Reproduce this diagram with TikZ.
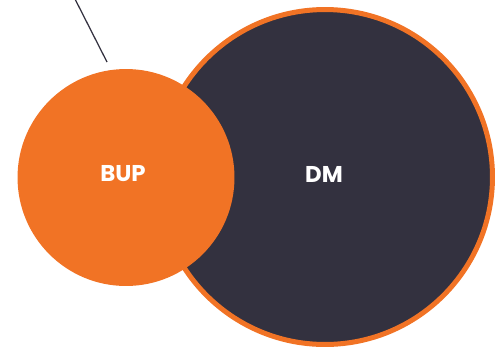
\documentclass[tikz,border=0pt]{standalone}
\usepackage{fontspec}
\setmainfont{Poppins}
\definecolor{bupOrange}{HTML}{F17325}
\definecolor{dmDark}{HTML}{33313F}
\begin{document}
\begin{tikzpicture}[x=0.02cm, y=-0.02cm,
    every node/.style={inner sep=0pt},
    disc/.style={circle, minimum size=#1},
    caption/.style={text=white, font=\bfseries\fontsize{13}{15}\selectfont}]
            \useasboundingbox (0,0) rectangle (502,349);
            \node[disc=6.7cm, fill=dmDark, draw=bupOrange, line width=0.1cm] (dm) at (325,177) {};
            \node[disc=4.34cm, fill=bupOrange] (bup) at (126,177.5) {};
            \node[caption] (dmtext) at (324,174) {DM};
            \node[caption] (buptext) at (123,173.5) {BUP};
            \coordinate (top) at (75,-1);
            \coordinate (tip) at (107,62);
            \draw[dmDark, line width=0.025cm] (top) -- (tip);
        \end{tikzpicture}
\end{document}
